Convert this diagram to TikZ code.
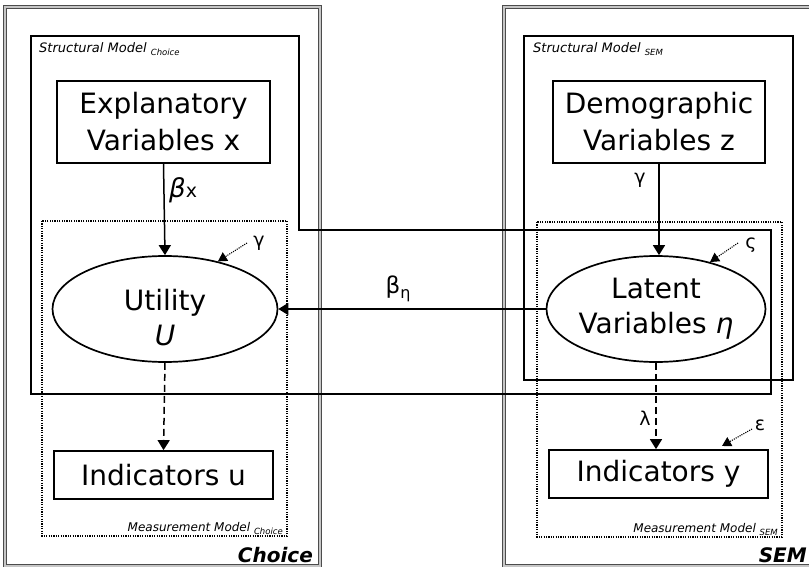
\documentclass[tikz,border=0pt]{standalone}
\usepackage{fontspec}
\setmainfont{DejaVu Sans}
\usetikzlibrary{arrows.meta,shapes.geometric}

\tikzset{
  panelout/.style={draw=gray!60!black, line width=4.5pt},
  panelin/.style={draw=gray!45, line width=1.2pt},
  structbox/.style={draw=black, line width=1.9pt},
  measbox/.style={draw=black, line width=1.2pt, dash pattern=on 1.2pt off 1.2pt},
  varbox/.style={draw=black, line width=1.7pt, inner sep=0pt, align=center,
    font=\fontsize{28}{37}\selectfont},
  latentvar/.style={ellipse, draw=black, line width=1.7pt, inner sep=0pt},
  vartext/.style={inner sep=0pt, align=center, font=\fontsize{28}{36}\selectfont},
  tip/.style={-{Triangle[length=10pt,width=12pt]}},
  path arrow/.style={tip, line width=1.5pt},
  meas arrow/.style={tip, line width=1.5pt, dash pattern=on 7pt off 4pt},
  err arrow/.style={-{Triangle[length=9pt,width=10pt]}, line width=1.1pt, dash pattern=on 1.1pt off 1.1pt},
  coef/.style={inner sep=0pt, font=\fontsize{19}{21}\selectfont},
  modellabel/.style={inner sep=0pt, font=\fontsize{13}{15}\selectfont\itshape},
  measlabel/.style={inner sep=0pt, font=\fontsize{12}{14}\selectfont\itshape},
  paneltitle/.style={inner sep=0pt, font=\fontsize{20}{22}\selectfont\bfseries\itshape}
}

\newcommand{\modelsub}[1]{\raisebox{-3pt}{\fontsize{8.5}{9}\selectfont #1}}

\begin{document}
\begin{tikzpicture}[x=1pt,y=-1pt]
\useasboundingbox (0,0) rectangle (809,567);
\fill[white] (0,0) rectangle (809,567);

% outer panels
\draw[panelout] (5,7) rectangle (320,566);
\draw[panelin]  (5,7) rectangle (320,566);
\draw[panelout] (504,7) rectangle (815,566);
\draw[panelin]  (504,7) rectangle (815,566);

% structural model of the choice part (reaches across to the latent variables)
\draw[structbox] (31,36) -- (299,36) -- (299,230) -- (771,230) -- (771,394) -- (31,394) -- cycle;
% structural model of the SEM part
\draw[structbox] (524,36) rectangle (793,380);

% measurement models
\draw[measbox] (42,221) rectangle (287,536);
\draw[measbox] (537,222) rectangle (782,537);

% model labels
\node[modellabel, anchor=base west] (smc) at (39,53) {Structural Model \modelsub{Choice}};
\node[modellabel, anchor=base west] (sms) at (533,53) {Structural Model \modelsub{SEM}};
\node[measlabel, anchor=base east] (mmc) at (283,531) {Measurement Model \modelsub{Choice}};
\node[measlabel, anchor=base east] (mms) at (778,532) {Measurement Model \modelsub{SEM}};

% panel titles
\node[paneltitle, anchor=base east] (tchoice) at (313,562) {Choice};
\node[paneltitle, anchor=base east] (tsem) at (807,562) {SEM};

% variables
\node[varbox, minimum width=213pt, minimum height=82pt] (expl) at (163.5,122)
  {Explanatory\\Variables x};
\node[varbox, minimum width=212pt, minimum height=82pt] (demo) at (659,122)
  {Demographic\\Variables z};
\node[latentvar, minimum width=225pt, minimum height=106pt] (util) at (165,309) {};
\node[vartext, anchor=base] (utilA) at (165,310) {Utility};
\node[vartext, anchor=base] (utilB) at (165,345) {\itshape U};
\node[latentvar, minimum width=219pt, minimum height=106pt] (lat) at (656,309) {};
\node[vartext, anchor=base] (latA) at (656,298) {Latent};
\node[vartext, anchor=base] (latB) at (656,333) {Variables \itshape η};
\node[varbox, minimum width=219pt, minimum height=48pt] (indu) at (163.5,475)
  {Indicators u};
\node[varbox, minimum width=219pt, minimum height=48pt] (indy) at (658.5,474)
  {Indicators y};

% structural paths
\draw[path arrow] (expl.south) -- (util.north);
\draw[path arrow] (demo.south) -- (demo.south |- lat.north);
\draw[path arrow] (lat.west) -- (util.east);

% measurement paths
\draw[meas arrow] (util.south) -- (indu.north);
\draw[meas arrow] (lat.south) -- (lat.south |- indy.north);

% error terms
\coordinate (eu) at (247,243);
\coordinate (el) at (738,243);
\coordinate (ey) at (752,429);
\coordinate (eyt) at (722,446);
\draw[err arrow] (eu) -- (util.42);
\draw[err arrow] (el) -- (lat.41);
\draw[err arrow] (ey) -- (eyt);

% coefficient labels
\node[coef, anchor=west] (bx) at (169,190) {{\fontsize{26}{28}\selectfont\itshape β}x};
\node[coef] (gz) at (640,180) {γ};
\node[coef] (be) at (398,289) {{\fontsize{23}{25}\selectfont β}\raisebox{-5pt}{\fontsize{16}{17}\selectfont η}};
\node[coef] (gu) at (259,243) {γ};
\node[coef] (zl) at (751,245) {ς};
\node[coef] (lm) at (645,418) {λ};
\node[coef] (ep) at (760,425) {ε};
\end{tikzpicture}
\end{document}
